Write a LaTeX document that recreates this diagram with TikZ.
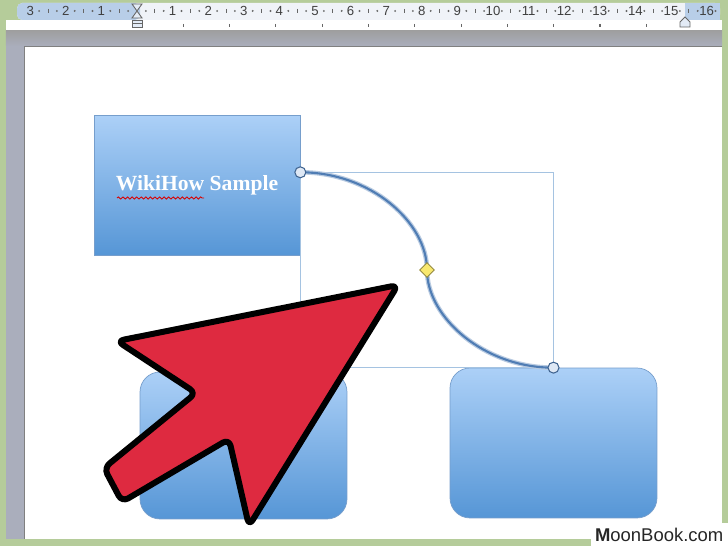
\documentclass[tikz,border=0pt]{standalone}
\usepackage{fontspec}
\setmainfont{Liberation Serif}
\setsansfont{Liberation Sans}
\usetikzlibrary{positioning,calc,shapes.geometric,decorations.pathmorphing}

\definecolor{bggreen}{RGB}{181,204,154}
\definecolor{wsgray}{RGB}{170,174,188}
\definecolor{rulerbar}{RGB}{240,243,248}
\definecolor{rulerblue}{RGB}{184,206,232}
\definecolor{boxtop}{RGB}{172,208,247}
\definecolor{boxbot}{RGB}{86,150,214}
\definecolor{boxline}{RGB}{118,158,204}
\definecolor{connblue}{RGB}{80,125,180}
\definecolor{frameblue}{RGB}{165,195,225}
\definecolor{arrowred}{RGB}{222,42,64}
\definecolor{handlefill}{RGB}{222,232,245}
\definecolor{diamondfill}{RGB}{248,232,110}

\tikzset{
  shapebox/.style={draw=boxline, top color=boxtop, bottom color=boxbot, inner sep=0pt},
  roundbox/.style={shapebox, rounded corners=0.4cm},
  handle/.style={circle, draw=connblue!80!black, fill=handlefill, minimum size=0.22cm, inner sep=0pt, line width=0.6pt},
  adjust/.style={diamond, draw=diamondfill!60!black, fill=diamondfill, minimum size=0.3cm, inner sep=0pt, line width=0.5pt},
  rulernum/.style={font=\sffamily\fontsize{7.5}{7.5}\selectfont, text=black!75, inner sep=0pt},
  marker/.style={draw=black!60, fill=rulerblue!40, line width=0.5pt},
}

\begin{document}
\begin{tikzpicture}[x=0.02cm, y=-0.02cm]
  \useasboundingbox (0,0) rectangle (728,546);
  %window background
  \fill[bggreen] (0,0) rectangle (728,546);
  \fill[wsgray] (6,30) rectangle (722,539);
  \fill[top color=black!38, bottom color=wsgray] (6,30) rectangle (722,46);
  \fill[white] (25,46) rectangle (722,539);
  \draw[black!50, line width=1pt] (24.5,539) -- (24.5,46.5) -- (722,46.5);
  %ruler
  \fill[white] (6,20) rectangle (722,30);
  \fill[rulerbar, rounded corners=3] (17,3) rectangle (720,20);
  \fill[rulerblue, rounded corners=3] (17,3) rectangle (140,20);
  \fill[rulerblue] (685,3) rectangle (720,20);
  \foreach \n in {1,...,16}
    \node[rulernum] (rn\n) at (137+35.6*\n, 11) {\n};
  \foreach \n in {1,2,3}
    \node[rulernum] (ln\n) at (137-35.6*\n, 11) {\n};
  \foreach \i in {-3,...,15} {
    \fill[black!60] (137+35.6*\i+8.9, 11) circle (0.6pt);
    \draw[black!60, line width=0.5pt] (137+35.6*\i+17.8, 9) -- (137+35.6*\i+17.8, 13);
    \fill[black!60] (137+35.6*\i+26.7, 11) circle (0.6pt);
  }
  \fill[black!60] (137+35.6*16+8.9, 11) circle (0.6pt);
  %tab stops
  \foreach \k in {1,...,11}
    \draw[black!60, line width=0.6pt] (137+46.3*\k, 24) -- (137+46.3*\k, 27);
  %indent markers
  \draw[marker] (132,4) -- (142,4) -- (132,18) -- (142,18) -- cycle;
  \draw[marker] (132,20) rectangle (142,27);
  \draw[black!60, line width=0.5pt] (132,23.5) -- (142,23.5);
  \draw[marker] (680,27) -- (690,27) -- (690,22) -- (685,17) -- (680,22) -- cycle;

  %boxes
  \node[shapebox, minimum width=4.12cm, minimum height=2.8cm, text=white,
        font=\bfseries\fontsize{12.3}{12.3}\selectfont] (topbox) at (197,185) {WikiHow Sample};
  \node[roundbox, minimum width=4.14cm, minimum height=2.94cm] (blbox) at (243.5,445.5) {};
  \node[roundbox, minimum width=4.14cm, minimum height=3cm] (brbox) at (553.5,443) {};
  %spelling mark
  \draw[red!85!black, line width=0.5pt, decorate, decoration={snake, amplitude=0.6pt, segment length=2.6pt}]
    ($(topbox.center)+(-80,13)$) -- ($(topbox.center)+(7,13)$);

  %connector and its frame
  \draw[frameblue, line width=0.5pt] (topbox.7) rectangle (brbox.north);
  \draw[connblue!40, line width=2.6pt] (topbox.7) .. controls (370,172) and (427,222) .. (427,270)
    .. controls (427,318) and (485,368) .. (brbox.north);
  \draw[connblue, line width=1.2pt] (topbox.7) .. controls (370,172) and (427,222) .. (427,270)
    .. controls (427,318) and (485,368) .. (brbox.north);
  \node[handle] (hstart) at (topbox.7) {};
  \node[handle] (hend) at (brbox.north) {};
  \node[adjust] (hmid) at (427,270) {};

  %pointer
  \draw[fill=arrowred, draw=black, line width=0.12cm, line join=round, rounded corners=4]
    (398,285) -- (117,341) -- (196,393) -- (104,468) -- (122,502) -- (229,439) -- (249,526) -- cycle;

  %watermark
  \node[fill=white, inner sep=2.5pt, anchor=south east, text=black!85,
        font=\sffamily\fontsize{10.5}{10.5}\selectfont] (mark) at (728,546) {{\bfseries M}oonBook.com};
\end{tikzpicture}
\end{document}
